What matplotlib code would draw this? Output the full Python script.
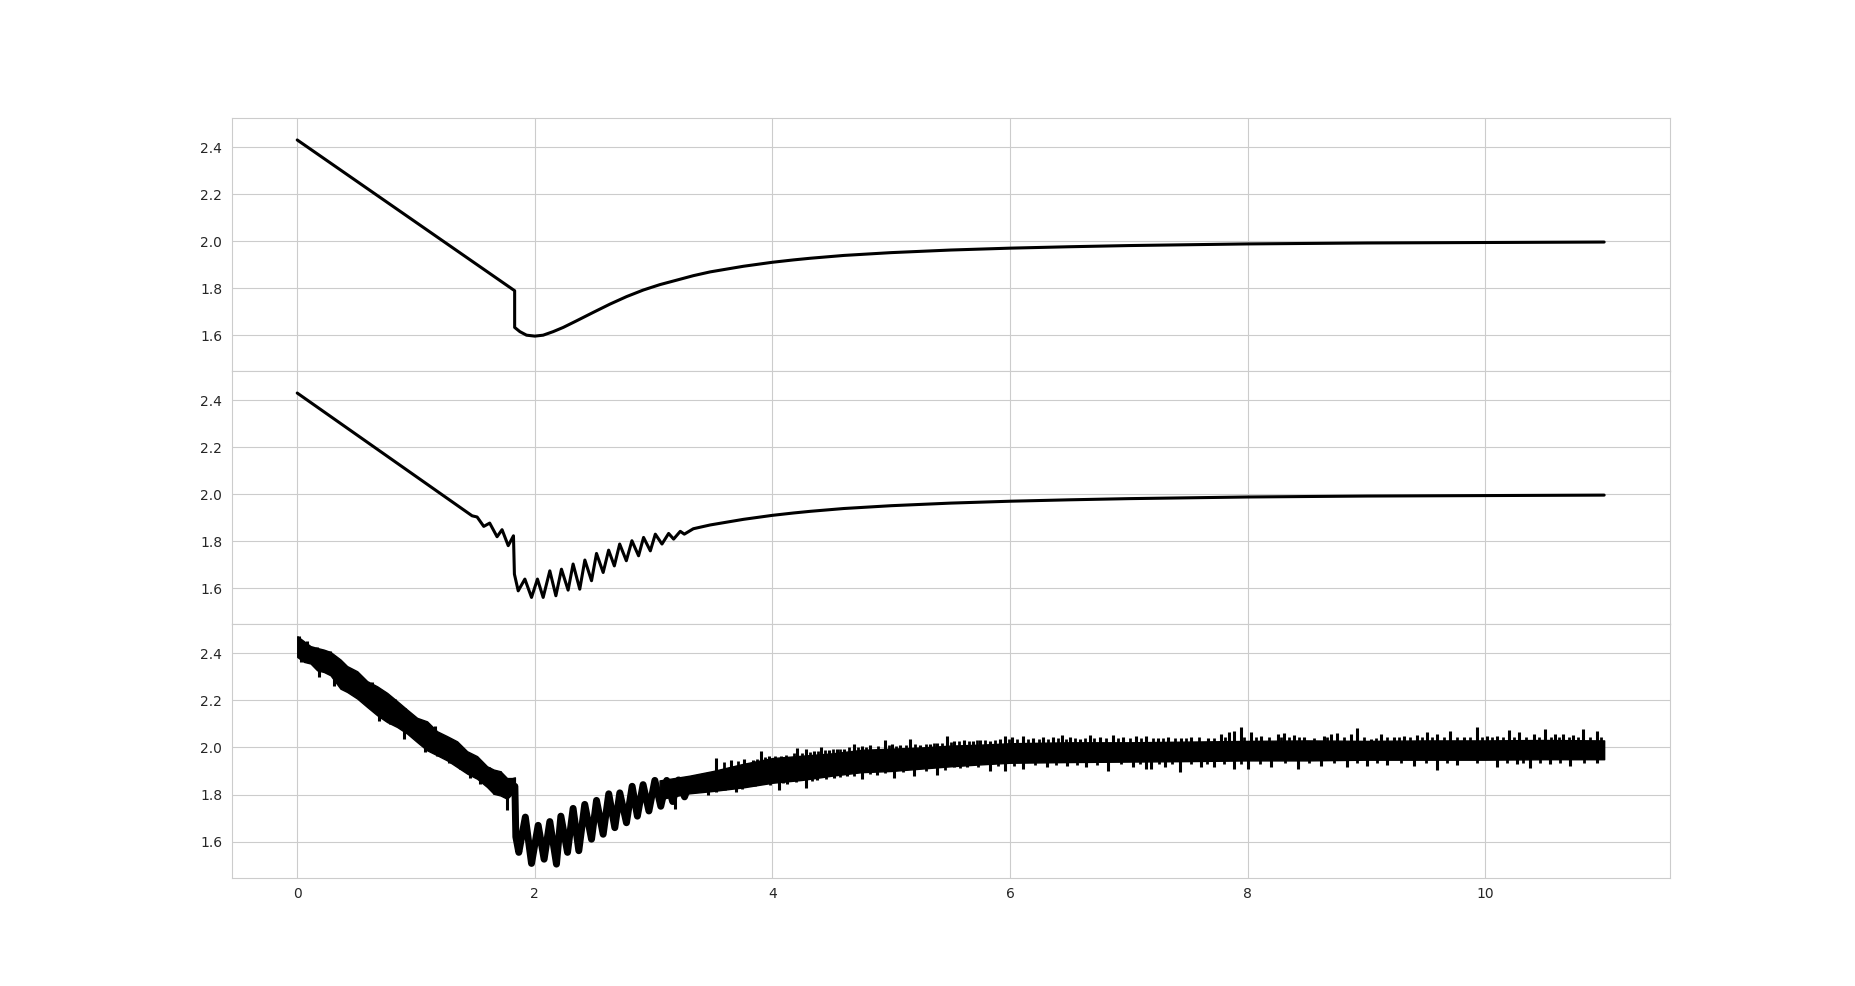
import numpy as np
import matplotlib
matplotlib.use("Agg")
import matplotlib.pyplot as plt
import seaborn as sns

# ---------------- data ----------------
# panel 1: clean response
x_top = [0, 1.83, 1.83, 1.874, 1.930, 2.0, 2.070, 2.154, 2.239, 2.351, 2.492, 2.632, 2.772,
         2.913, 3.053, 3.194, 3.334, 3.475, 3.615, 3.756, 4.0, 4.177, 4.317, 4.6, 5.0, 5.5,
         6, 6.5, 7, 8, 9, 10, 11]
y_top = [2.431, 1.790, 1.634, 1.616, 1.601, 1.597, 1.601, 1.616, 1.634, 1.662, 1.698, 1.733,
         1.765, 1.793, 1.816, 1.835, 1.854, 1.870, 1.882, 1.894, 1.911, 1.921, 1.928, 1.940,
         1.952, 1.963, 1.971, 1.977, 1.982, 1.989, 1.993, 1.995, 1.997]

# panel 2: response with oscillation
x_mid = [0, 1.472, 1.514, 1.570, 1.62, 1.682, 1.724, 1.776, 1.820, 1.828, 1.860, 1.916,
         1.972, 2.022, 2.070, 2.126, 2.177, 2.224, 2.280, 2.322, 2.378, 2.421, 2.477, 2.519,
         2.575, 2.621, 2.669, 2.714, 2.770, 2.817, 2.873, 2.915, 2.972, 3.014, 3.070, 3.126,
         3.168, 3.224, 3.258, 3.334, 3.475, 3.615, 3.756, 4.0, 4.177, 4.317, 4.6, 5.0, 5.5,
         6, 6.5, 7, 8, 9, 10, 11]
y_mid = [2.431, 1.909, 1.904, 1.864, 1.878, 1.82, 1.85, 1.782, 1.824, 1.661, 1.590, 1.640,
         1.562, 1.640, 1.562, 1.675, 1.569, 1.682, 1.593, 1.704, 1.597, 1.721, 1.633, 1.749,
         1.668, 1.763, 1.696, 1.789, 1.718, 1.803, 1.739, 1.817, 1.760, 1.831, 1.789, 1.834,
         1.810, 1.843, 1.831, 1.854, 1.870, 1.882, 1.894, 1.911, 1.921, 1.928, 1.940, 1.952,
         1.963, 1.971, 1.977, 1.982, 1.989, 1.993, 1.995, 1.997]

# panel 3: noisy measurement
# descending part: band core (upper / lower edge)
x_desc = [0, 0.056, 0.112, 0.168, 0.224, 0.28, 0.364, 0.42, 0.505, 0.589, 0.673, 0.757,
          0.841, 0.925, 1.009, 1.093, 1.177, 1.262, 1.346, 1.430, 1.514, 1.598, 1.654,
          1.710, 1.766, 1.808, 1.832]
hi_desc = [2.473, 2.452, 2.431, 2.423, 2.416, 2.406, 2.374, 2.346, 2.324, 2.282, 2.260,
           2.232, 2.197, 2.161, 2.126, 2.111, 2.069, 2.048, 2.026, 1.984, 1.963, 1.920,
           1.906, 1.899, 1.870, 1.870, 1.873]
lo_desc = [2.385, 2.364, 2.357, 2.328, 2.321, 2.307, 2.250, 2.236, 2.208, 2.172, 2.137,
           2.108, 2.087, 2.059, 2.023, 1.988, 1.967, 1.945, 1.917, 1.889, 1.867, 1.832,
           1.803, 1.796, 1.782, 1.803, 1.802]

# oscillating part: centre of the thick noisy wave
x_osc = [1.832, 1.840, 1.865, 1.92, 1.972, 2.028, 2.078, 2.126, 2.182, 2.219, 2.275, 2.322,
         2.37, 2.42, 2.477, 2.519, 2.575, 2.622, 2.673, 2.715, 2.771, 2.819, 2.863, 2.911,
         2.96, 3.01, 3.06, 3.11, 3.16, 3.21, 3.26, 3.30]
y_osc = [1.835, 1.620, 1.554, 1.704, 1.507, 1.669, 1.525, 1.685, 1.504, 1.708, 1.554, 1.741,
         1.561, 1.758, 1.610, 1.775, 1.631, 1.803, 1.659, 1.807, 1.680, 1.835, 1.708, 1.842,
         1.730, 1.860, 1.750, 1.860, 1.770, 1.862, 1.790, 1.845]

# settling part: band core
x_flat = [3.05, 3.30, 3.50, 3.75, 4.00, 4.25, 4.50, 4.75, 5.00, 5.25, 5.50, 5.75, 6.00,
          6.50, 7.00, 7.50, 8.00, 8.50, 9.00, 9.50, 10.00, 10.50, 11.00]
hi_flat = [1.860, 1.880, 1.900, 1.930, 1.955, 1.965, 1.975, 1.990, 1.995, 2.000, 2.008,
           2.012, 2.018, 2.022, 2.022, 2.025, 2.028, 2.030, 2.028, 2.030, 2.030, 2.032, 2.030]
lo_flat = [1.780, 1.805, 1.815, 1.830, 1.850, 1.862, 1.880, 1.895, 1.900, 1.910, 1.920,
           1.928, 1.935, 1.938, 1.940, 1.942, 1.945, 1.945, 1.948, 1.948, 1.948, 1.950, 1.950]

# noise spikes above the band (tip values)
up_x = [0.014, 0.084, 0.168, 0.280, 0.378, 0.463, 0.561, 0.631, 0.729, 0.827, 0.911, 0.995,
        1.093, 1.163, 1.234, 1.318, 1.388, 1.486, 1.556, 1.612, 1.710, 1.808,
        3.524, 3.650, 3.762, 3.832, 3.902, 3.972, 4.070, 4.154, 4.210, 4.280, 4.350, 4.406,
        4.476, 4.545, 4.601, 4.685, 4.755, 4.825, 4.951, 5.007, 5.077, 5.161, 5.245, 5.329,
        5.385, 5.469, 5.524, 5.608, 5.692, 5.748, 5.832, 5.916, 5.958, 6.014, 6.112, 6.196,
        6.280, 6.364, 6.434, 6.503, 6.587, 6.671, 6.755, 6.867, 6.951, 7.063, 7.147,
        7.245, 7.329, 7.441, 7.524, 7.664, 7.776, 7.846, 7.888, 7.944, 8.028, 8.112, 8.252,
        8.308, 8.392, 8.476, 8.643, 8.699, 8.755, 8.867, 8.923, 9.035, 9.119, 9.231, 9.315,
        9.427, 9.510, 9.594, 9.706, 9.818, 9.930, 10.014, 10.098, 10.196, 10.280, 10.406,
        10.503, 10.587, 10.657, 10.741, 10.825, 10.937]
up_y = [2.475, 2.451, 2.428, 2.409, 2.362, 2.326, 2.284, 2.277, 2.234, 2.206, 2.167, 2.130,
        2.106, 2.092, 2.050, 2.028, 1.993, 1.965, 1.929, 1.915, 1.901, 1.872,
        1.955, 1.946, 1.950, 1.946, 1.983, 1.965, 1.965, 1.957, 1.997, 1.993, 1.983, 2.000,
        1.989, 1.993, 1.993, 2.014, 2.007, 2.010, 2.031, 2.014, 2.011, 2.035, 2.010, 2.014,
        2.017, 2.050, 2.028, 2.031, 2.026, 2.031, 2.028, 2.035, 2.050, 2.043, 2.050, 2.040,
        2.043, 2.045, 2.052, 2.045, 2.035, 2.054, 2.043, 2.052, 2.045, 2.050, 2.050,
        2.040, 2.043, 2.040, 2.043, 2.040, 2.057, 2.064, 2.068, 2.085, 2.064, 2.050, 2.057,
        2.060, 2.054, 2.045, 2.050, 2.057, 2.060, 2.057, 2.082, 2.035, 2.057, 2.043, 2.050,
        2.054, 2.064, 2.057, 2.071, 2.043, 2.088, 2.050, 2.050, 2.074, 2.064, 2.057,
        2.078, 2.057, 2.057, 2.054, 2.078, 2.068]

# smaller noise strokes along the upper edge of the settling band
up2_x = [3.59, 3.71, 3.87, 3.94, 4.02, 4.11, 4.18, 4.25, 4.32, 4.38, 4.44, 4.51, 4.57, 4.64,
         4.72, 4.79, 4.89, 4.98, 5.04, 5.12, 5.20, 5.29, 5.36, 5.43, 5.50, 5.57, 5.65, 5.72,
         5.79, 5.87, 5.99, 6.06, 6.15, 6.24, 6.32, 6.40, 6.47, 6.55, 6.63, 6.71, 6.81, 6.91,
         7.01, 7.10, 7.20, 7.29, 7.39, 7.48, 7.59, 7.72, 7.81, 7.97, 8.07, 8.18, 8.28, 8.35,
         8.43, 8.56, 8.67, 8.81, 8.98, 9.08, 9.17, 9.27, 9.37, 9.47, 9.55, 9.65, 9.76, 9.87,
         9.97, 10.06, 10.15, 10.24, 10.34, 10.45, 10.55, 10.62, 10.70, 10.78, 10.88, 10.97]
up2_y = [1.940, 1.942, 1.950, 1.960, 1.962, 1.968, 1.975, 1.978, 1.980, 1.985, 1.988, 1.992,
         1.995, 2.000, 2.002, 2.004, 2.008, 2.010, 2.008, 2.012, 2.014, 2.016, 2.018, 2.020,
         2.024, 2.026, 2.028, 2.030, 2.030, 2.032, 2.036, 2.036, 2.038, 2.036, 2.038, 2.040,
         2.038, 2.040, 2.040, 2.040, 2.042, 2.040, 2.042, 2.040, 2.042, 2.040, 2.042, 2.040,
         2.044, 2.042, 2.046, 2.044, 2.046, 2.044, 2.046, 2.044, 2.046, 2.042, 2.046, 2.044,
         2.046, 2.042, 2.046, 2.044, 2.046, 2.044, 2.046, 2.044, 2.046, 2.044, 2.046, 2.044,
         2.046, 2.044, 2.046, 2.044, 2.046, 2.044, 2.046, 2.044, 2.046, 2.044]

# noise spikes below the band (tip values)
dn_x = [0.028, 0.182, 0.308, 0.421, 0.519, 0.603, 0.687, 0.785, 0.897, 0.981, 1.079, 1.177,
        1.276, 1.374, 1.458, 1.542, 1.654, 1.766,
        3.18, 3.455, 3.524, 3.692, 3.790, 3.902, 4.056, 4.126, 4.280, 4.378, 4.517, 4.629,
        4.755, 4.881, 5.021, 5.189, 5.385, 5.524, 5.636, 5.832, 5.958, 6.112, 6.308, 6.476,
        6.643, 6.825, 7.035, 7.147, 7.189, 7.301, 7.427, 7.608, 7.720, 7.888, 8.0, 8.196,
        8.420, 8.615, 8.839, 9.007, 9.175, 9.399, 9.594, 9.762, 10.098, 10.266, 10.378,
        10.545, 10.713, 10.937]
dn_y = [2.362, 2.298, 2.262, 2.241, 2.206, 2.170, 2.113, 2.099, 2.035, 2.050, 1.979, 1.965,
        1.936, 1.908, 1.872, 1.844, 1.801, 1.733,
        1.738, 1.799, 1.809, 1.809, 1.837, 1.844, 1.818, 1.844, 1.827, 1.861, 1.872, 1.879,
        1.865, 1.884, 1.870, 1.879, 1.884, 1.915, 1.918, 1.901, 1.901, 1.908, 1.915, 1.922,
        1.918, 1.901, 1.915, 1.908, 1.908, 1.915, 1.894, 1.915, 1.918, 1.908, 1.908, 1.915,
        1.908, 1.922, 1.915, 1.922, 1.926, 1.922, 1.904, 1.926, 1.915, 1.929, 1.912,
        1.929, 1.922, 1.936]

# smaller noise strokes along the lower edge of the settling band
dn2_x = [3.49, 3.60, 3.74, 3.85, 3.98, 4.09, 4.20, 4.33, 4.45, 4.57, 4.69, 4.82, 4.95, 5.10,
         5.29, 5.45, 5.58, 5.73, 5.90, 6.03, 6.21, 6.39, 6.56, 6.73, 6.93, 7.09, 7.25, 7.36,
         7.52, 7.66, 7.80, 7.94, 8.10, 8.31, 8.52, 8.73, 8.92, 9.09, 9.29, 9.50, 9.68, 9.93,
         10.18, 10.32, 10.46, 10.63, 10.83]
dn2_y = [1.815, 1.820, 1.825, 1.835, 1.842, 1.848, 1.852, 1.858, 1.866, 1.874, 1.880, 1.886,
         1.890, 1.895, 1.900, 1.905, 1.912, 1.916, 1.920, 1.922, 1.925, 1.926, 1.926, 1.926,
         1.928, 1.928, 1.928, 1.930, 1.930, 1.930, 1.930, 1.930, 1.930, 1.932, 1.932, 1.932,
         1.932, 1.932, 1.932, 1.932, 1.932, 1.932, 1.932, 1.932, 1.932, 1.932, 1.932]

# ---------------- drawing ----------------
sns.set_style("whitegrid")
plt.rcParams['font.family'] = ['DejaVu Sans']

fig, axes = plt.subplots(3, 1, sharex=True, sharey=True, figsize=(18.55, 9.86), dpi=100)
fig.subplots_adjust(hspace=0)

lw = 2.2
axes[0].plot(x_top, y_top, color='black', lw=lw)
axes[1].plot(x_mid, y_mid, color='black', lw=lw)

ax = axes[2]
ax.fill_between(x_desc, lo_desc, hi_desc, color='black', lw=1.0)
ax.fill_between(x_flat, lo_flat, hi_flat, color='black', lw=1.0)
ax.plot(x_osc, y_osc, color='black', lw=5.0, solid_joinstyle='round')

core_x = x_desc + x_flat
core_hi = hi_desc + hi_flat
core_lo = lo_desc + lo_flat
ax.vlines(up_x, np.interp(up_x, core_x, core_hi) - 0.01, up_y, color='black', lw=2.2)
ax.vlines(up2_x, np.interp(up2_x, core_x, core_hi) - 0.01, up2_y, color='black', lw=2.0)
ax.vlines(dn_x, dn_y, np.interp(dn_x, core_x, core_lo) + 0.01, color='black', lw=2.2)
ax.vlines(dn2_x, dn2_y, np.interp(dn2_x, core_x, core_lo) + 0.01, color='black', lw=2.0)

axes[0].set_ylim(1.447, 2.523)
for a in axes:
    a.tick_params(labelsize=10)

fig.savefig("out.png", dpi=100)
